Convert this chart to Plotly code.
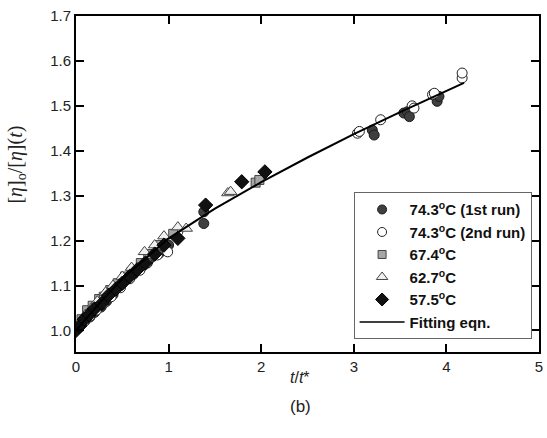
import plotly.graph_objects as go

# ---- data ----
run1_x = [0.02, 0.05, 0.10, 0.15, 0.20, 0.27, 0.33, 0.40, 0.45, 0.50, 0.55, 0.62, 0.70, 0.80, 0.90, 1.00, 1.38, 1.38,
          3.20, 3.22, 3.54, 3.58, 3.60, 3.90, 3.92]
run1_y = [1.005, 1.012, 1.022, 1.030, 1.040, 1.052, 1.065, 1.080, 1.095, 1.105, 1.115, 1.125, 1.140, 1.160, 1.172, 1.190, 1.238, 1.264,
          1.446, 1.435, 1.484, 1.487, 1.476, 1.510, 1.521]

run2_x = [0.03, 0.08, 0.15, 0.22, 0.30, 0.38, 0.48, 0.58, 0.69, 0.77, 0.88, 0.99, 1.10,
          3.04, 3.06, 3.29, 3.63, 3.65, 3.85, 3.87, 4.17, 4.17]
run2_y = [1.008, 1.018, 1.032, 1.045, 1.060, 1.075, 1.095, 1.115, 1.134, 1.150, 1.168, 1.175, 1.220,
          1.439, 1.443, 1.469, 1.500, 1.495, 1.525, 1.528, 1.562, 1.573]

t674_x = [0.02, 0.06, 0.12, 0.18, 0.25, 0.30, 0.37, 0.45, 0.53, 0.60, 0.70, 0.78, 0.90, 1.05, 1.94, 1.98]
t674_y = [1.010, 1.025, 1.045, 1.055, 1.070, 1.075, 1.090, 1.105, 1.120, 1.130, 1.150, 1.170, 1.190, 1.215, 1.329, 1.335]

t627_x = [0.01, 0.05, 0.10, 0.17, 0.23, 0.32, 0.40, 0.50, 0.60, 0.74, 0.85, 0.95, 1.10, 1.19, 1.64, 1.67]
t627_y = [1.005, 1.020, 1.035, 1.050, 1.065, 1.085, 1.100, 1.120, 1.140, 1.175, 1.190, 1.210, 1.230, 1.227, 1.306, 1.309]

t575_x = [0.00, 0.04, 0.09, 0.14, 0.20, 0.28, 0.35, 0.43, 0.50, 0.58, 0.66, 0.75, 0.85, 0.95, 1.10, 1.40, 1.79, 2.04]
t575_y = [1.000, 1.010, 1.025, 1.035, 1.048, 1.060, 1.078, 1.092, 1.105, 1.120, 1.135, 1.150, 1.170, 1.190, 1.205, 1.279, 1.331, 1.353]

fit_x = [0.0, 0.25, 0.5, 0.75, 1.0, 1.5, 2.0, 2.5, 3.0, 3.5, 4.0, 4.19]
fit_y = [1.000, 1.060, 1.115, 1.160, 1.205, 1.271, 1.330, 1.385, 1.437, 1.486, 1.533, 1.551]

x_ticks = [0, 1, 2, 3, 4, 5]
y_ticks = [1.0, 1.1, 1.2, 1.3, 1.4, 1.5, 1.6, 1.7]

names = ["74.3<sup>o</sup>C (1st run)", "74.3<sup>o</sup>C (2nd run)", "67.4<sup>o</sup>C",
         "62.7<sup>o</sup>C", "57.5<sup>o</sup>C", "Fitting eqn."]

styles = [
    dict(symbol="circle", size=10, color="#3f3f3f", line=dict(color="#1a1a1a", width=1)),
    dict(symbol="circle", size=10, color="white", line=dict(color="#222", width=1)),
    dict(symbol="square", size=9, color="#a6a6a6", line=dict(color="#444", width=1)),
    dict(symbol="triangle-up", size=11, color="#f0f0f0", line=dict(color="#444", width=1)),
    dict(symbol="diamond", size=11, color="#111", line=dict(color="#000", width=1)),
]
legend_sizes = [9, 9, 8, 10, 10]

series = [(run1_x, run1_y), (run2_x, run2_y), (t674_x, t674_y), (t627_x, t627_y), (t575_x, t575_y)]

fig = go.Figure()
for (xs, ys), st in zip(series, styles):
    fig.add_trace(go.Scatter(x=xs, y=ys, mode="markers", marker=st, showlegend=False))
fig.add_trace(go.Scatter(x=fit_x, y=fit_y, mode="lines", showlegend=False,
                         line=dict(color="black", width=2)))

# legend entries (smaller symbols, as in the reference legend)
for name, st, sz in zip(names[:5], styles, legend_sizes):
    st2 = dict(st)
    st2["size"] = sz
    fig.add_trace(go.Scatter(x=[None], y=[None], mode="markers", name=name, marker=st2))
fig.add_trace(go.Scatter(x=[None], y=[None], mode="lines", name=names[5],
                         line=dict(color="black", width=1.5)))

axis_common = dict(showline=True, linecolor="black", linewidth=2, mirror="ticks",
                   ticks="inside", ticklen=8, tickwidth=1.5, tickcolor="black",
                   showgrid=False, zeroline=False,
                   tickfont=dict(family="Arial, Liberation Sans", size=15, color="#222"))

fig.update_layout(
    width=547, height=438,
    margin=dict(l=76, r=4, t=16, b=86),
    plot_bgcolor="white", paper_bgcolor="white",
    xaxis=dict(range=[0, 5], tickvals=x_ticks, ticktext=[str(v) for v in x_ticks], **axis_common),
    yaxis=dict(range=[0.952, 1.7], tickvals=y_ticks, ticktext=[f"{v:.1f}" for v in y_ticks], **axis_common),
    legend=dict(x=0.984, y=0.038, xanchor="right", yanchor="bottom",
                bgcolor="white", bordercolor="#666", borderwidth=1,
                font=dict(family="Arial, Liberation Sans", size=15, color="#111", weight="bold"),
                tracegroupgap=0, itemwidth=45),
    showlegend=True,
    annotations=[
        dict(text="<i>t</i>/<i>t</i>*", x=0.484, y=-0.077, xref="paper", yref="paper",
             xanchor="center", yanchor="middle", showarrow=False,
             font=dict(family="Arial, Liberation Sans", size=16, color="#222")),
        dict(text="(b)", xref="paper", yref="paper", x=0.484, y=-0.161,
             xanchor="center", yanchor="middle", showarrow=False,
             font=dict(family="Arial, Liberation Sans", size=17, color="#222")),
        dict(text="[<i>η</i>]<sub>o</sub>/[<i>η</i>](<i>t</i>)", xref="paper", yref="paper",
             x=-0.128, y=0.557, xanchor="center", yanchor="middle", textangle=-90, showarrow=False,
             font=dict(family="Liberation Serif, DejaVu Serif", size=20, color="#222")),
    ],
)
fig.write_html("out.html")
